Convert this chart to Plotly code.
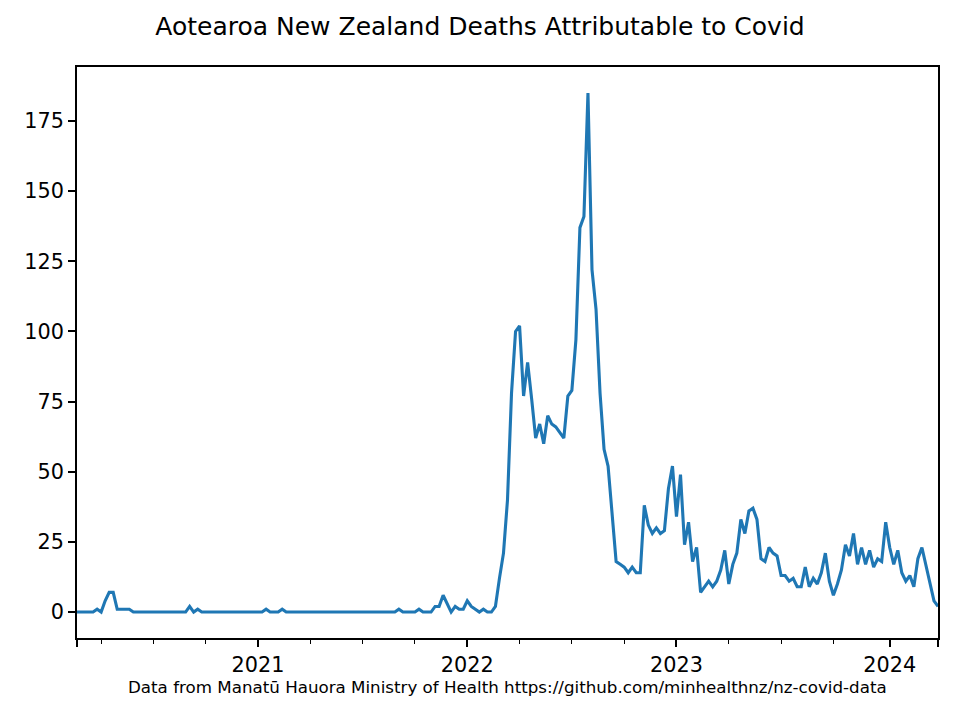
import pandas as pd
import plotly.graph_objects as go

# ---- data (weekly deaths attributable to Covid, weeks ending Sunday) ----
first_week_ending = "2020-02-23"
deaths = [
    0, 0, 0, 0, 0, 1, 0, 4, 7, 7,
    1, 1, 1, 1, 0, 0, 0, 0, 0, 0,
    0, 0, 0, 0, 0, 0, 0, 0, 2, 0,
    1, 0, 0, 0, 0, 0, 0, 0, 0, 0,
    0, 0, 0, 0, 0, 0, 0, 1, 0, 0,
    0, 1, 0, 0, 0, 0, 0, 0, 0, 0,
    0, 0, 0, 0, 0, 0, 0, 0, 0, 0,
    0, 0, 0, 0, 0, 0, 0, 0, 0, 0,
    1, 0, 0, 0, 0, 1, 0, 0, 0, 2,
    2, 6, 3, 0, 2, 1, 1, 4, 2, 1,
    0, 1, 0, 0, 2, 12, 21, 40, 78, 100,
    102, 77, 89, 76, 62, 67, 60, 70, 67, 66,
    64, 62, 77, 79, 97, 137, 141, 185, 122, 108,
    78, 58, 52, 36, 18, 17, 16, 14, 16, 14,
    14, 38, 31, 28, 30, 28, 29, 44, 52, 34,
    49, 24, 32, 18, 23, 7, 9, 11, 9, 11,
    15, 22, 10, 17, 21, 33, 28, 36, 37, 33,
    19, 18, 23, 21, 20, 13, 13, 11, 12, 9,
    9, 16, 9, 12, 10, 14, 21, 11, 6, 10,
    15, 24, 20, 28, 17, 23, 17, 22, 16, 19,
    18, 32, 23, 17, 22, 14, 11, 13, 9, 19,
    23, 17, 11, 4, 2,
]
year_labels = ["2021", "2022", "2023", "2024"]
quarter_months = [4, 7, 10]
y_ticks = [0, 25, 50, 75, 100, 125, 150, 175]

title_text = "Aotearoa New Zealand Deaths Attributable to Covid"
caption_text = "Data from Manatū Hauora Ministry of Health https://github.com/minhealthnz/nz-covid-data"

# ---- derived ----
weeks = pd.date_range(first_week_ending, periods=len(deaths), freq="7D")


def week_end_of(ts):
    return pd.Period(ts, freq="W-SUN").end_time.normalize()


major_vals = [weeks[0]] + [week_end_of(pd.Timestamp(f"{y}-01-01")) for y in year_labels] + [weeks[-1]]
major_text = [""] + year_labels + [""]
minor_vals = []
for y in range(weeks[0].year, weeks[-1].year + 1):
    for m in quarter_months:
        t = week_end_of(pd.Timestamp(year=y, month=m, day=1))
        if weeks[0] < t < weeks[-1]:
            minor_vals.append(t)

FONT = "DejaVu Sans"
fig = go.Figure()
fig.add_trace(go.Scatter(
    x=weeks, y=deaths, mode="lines",
    line=dict(color="#1f77b4", width=3.1),
    showlegend=False,
))

fig.update_layout(
    width=960, height=720,
    margin=dict(l=77, r=22, t=67, b=82),
    paper_bgcolor="white", plot_bgcolor="white",
    font=dict(family=FONT, size=21, color="black"),
    title=dict(
        text=title_text, x=0.5, xref="container", xanchor="center",
        y=1 - 26 / 720, yref="container", yanchor="middle",
        font=dict(family=FONT, size=25, color="black"),
    ),
    xaxis=dict(
        type="date",
        range=[weeks[0], weeks[-1]],
        tickmode="array", tickvals=major_vals, ticktext=major_text,
        ticks="outside", ticklen=7, tickwidth=1.67, tickcolor="black",
        showline=True, linecolor="black", linewidth=1.67, mirror=True,
        showgrid=False, zeroline=False,
        tickfont=dict(family=FONT, size=20.8, color="black"),
        ticklabelstandoff=0,
        minor=dict(tickmode="array", tickvals=minor_vals, ticks="outside",
                   ticklen=4, tickwidth=1.25, tickcolor="black", showgrid=False),
    ),
    yaxis=dict(
        range=[-9.25, 194.25],
        tickmode="array", tickvals=y_ticks,
        ticks="outside", ticklen=7, tickwidth=1.67, tickcolor="black",
        showline=True, linecolor="black", linewidth=1.67, mirror=True,
        showgrid=False, zeroline=False,
        tickfont=dict(family=FONT, size=20.8, color="black"),
        ticklabelstandoff=0,
    ),
    annotations=[dict(
        text=caption_text, xref="paper", x=0.5, xanchor="center",
        yref="paper", y=-(687 - 638) / 571, yanchor="middle",
        showarrow=False, font=dict(family=FONT, size=16.7, color="black"),
    )],
)

fig.write_html("out.html")
